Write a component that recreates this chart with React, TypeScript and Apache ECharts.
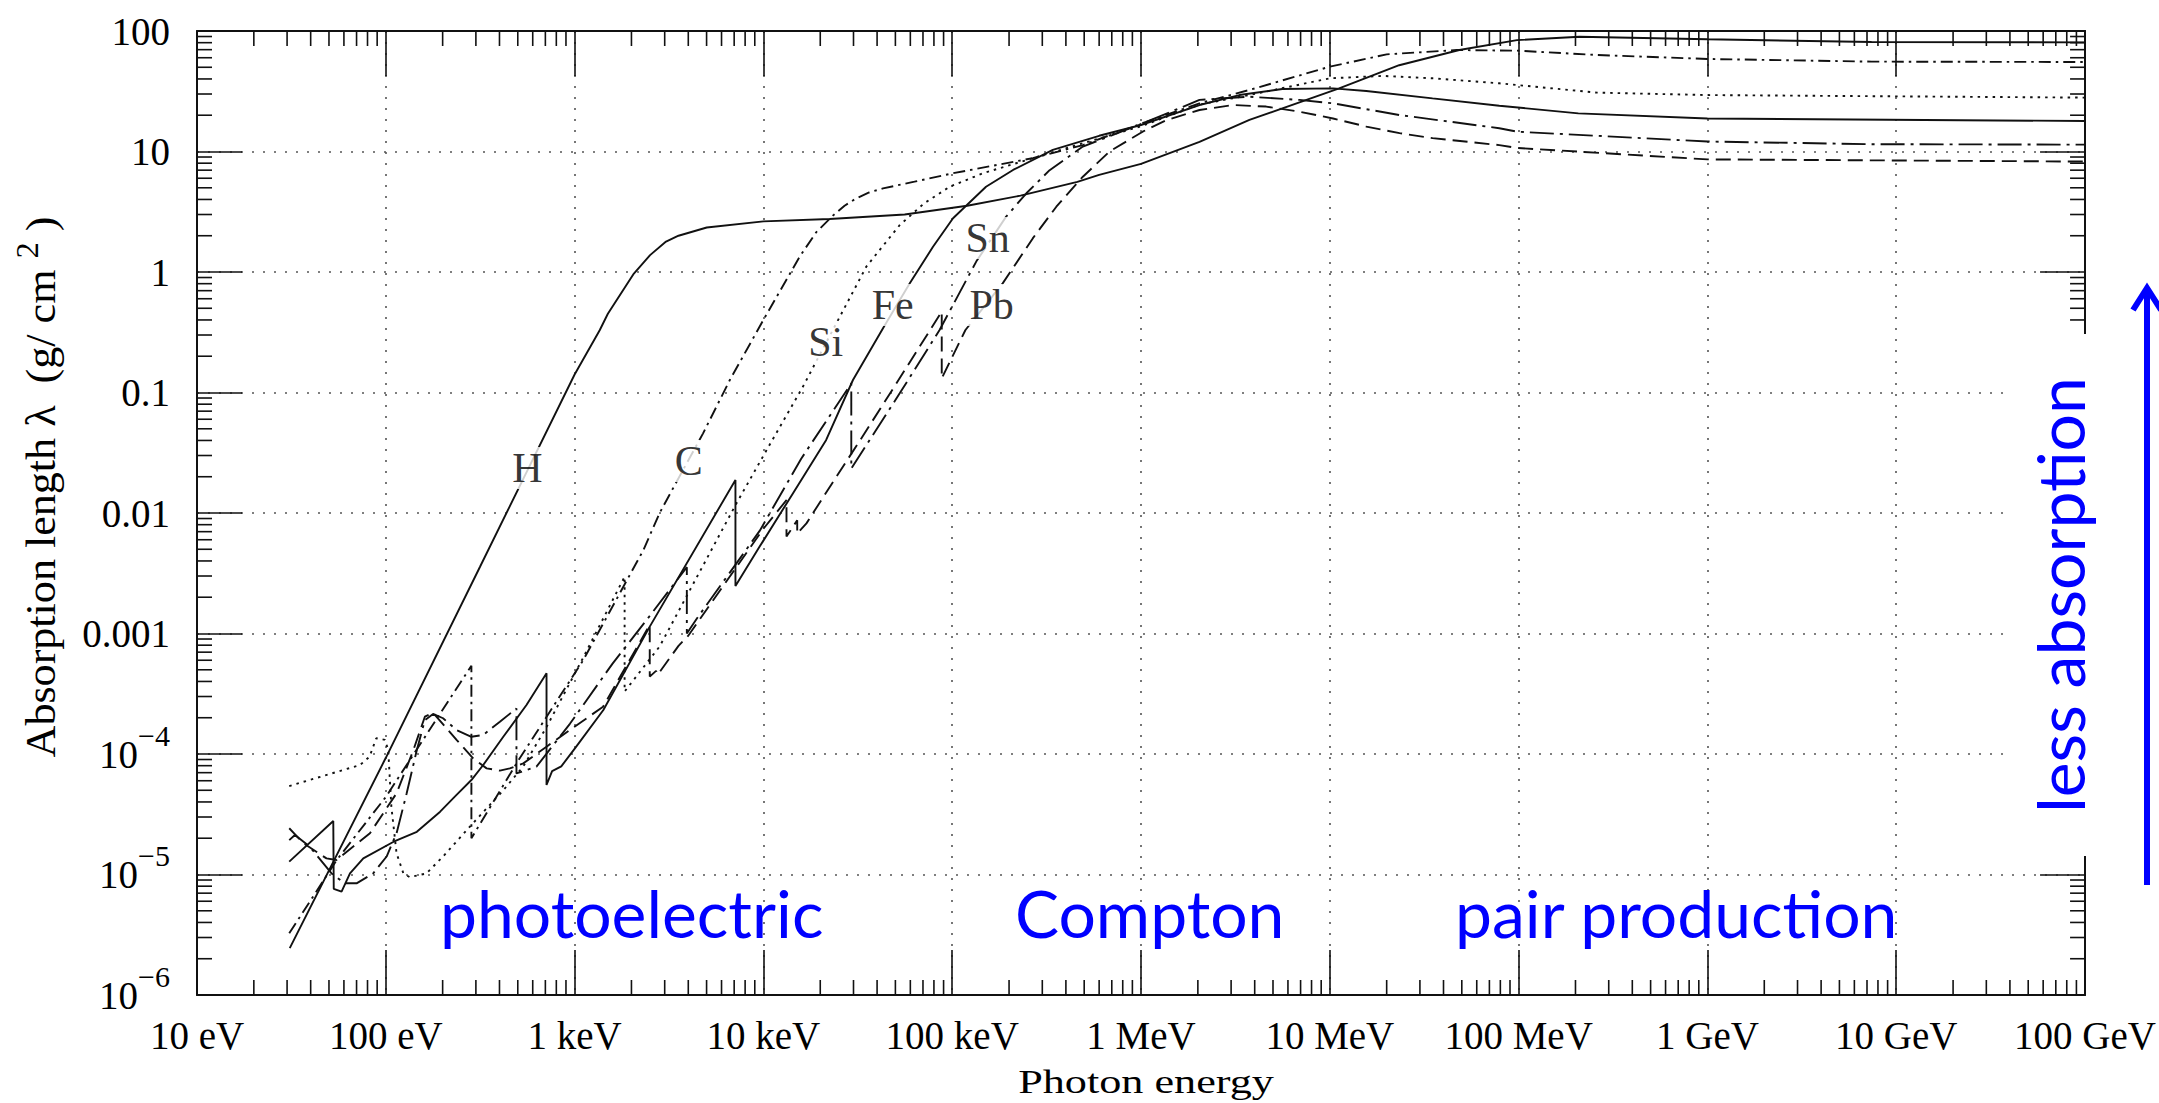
import React, { useEffect, useRef } from 'react';
import * as echarts from 'echarts';

// ---------- tick labels ----------
const xTickLabels = ['10 eV', '100 eV', '1 keV', '10 keV', '100 keV', '1 MeV', '10 MeV', '100 MeV', '1 GeV', '10 GeV', '100 GeV'];
const yTickLabels = ['{b|10}{s|−6}', '{b|10}{s|−5}', '{b|10}{s|−4}', '{b|0.001}', '{b|0.01}', '{b|0.1}', '{b|1}', '{b|10}', '{b|100}'];

// ---------- curves: [photon energy (eV), absorption length (g/cm^2)] ----------
const hydrogen = [
  [31, 2.45e-6], [100, 9.3e-5], [316, 3.6e-3], [1000, 0.141], [1360, 0.33], [1500, 0.45], [2060, 0.97],
  [2510, 1.38], [3050, 1.79], [3550, 2.0], [5010, 2.34], [10000, 2.63], [22400, 2.75], [56000, 3.0],
  [120000, 3.55], [230000, 4.3], [460000, 5.6], [600000, 6.4], [1e6, 7.9], [2.04e6, 12.0], [3.75e6, 18.3],
  [1.12e7, 33.4], [2.33e7, 52], [4.85e7, 69.5], [9.8e7, 84], [2.1e8, 89.7], [1e9, 85.3], [7.4e9, 81.1],
  [1e11, 80.5],
];
const carbon = [
  [30.8, 3.25e-6], [55, 1.32e-5], [100, 4.4e-5], [284, 5.4e-4], [284, 2.0e-5], [500, 8.7e-5], [1110, 6.0e-4],
  [2310, 4.9e-3], [2820, 0.01], [3610, 0.0204], [4790, 0.0458], [6640, 0.127], [10100, 0.412], [15560, 1.34],
  [19050, 2.14], [23400, 2.95], [26900, 3.55], [31000, 4.08], [36300, 4.57], [43000, 4.94], [63100, 5.62],
  [101000, 6.6], [267000, 8.8], [492000, 11.3], [1.01e6, 17.1], [2.04e6, 25.1], [3.75e6, 32.4], [1e7, 50.6],
  [2e7, 64], [4.7e7, 69.5], [9.8e7, 68.7], [2.6e8, 63.2], [1e9, 58.6], [7.4e9, 55.7], [1e11, 55.3],
];
const silicon = [
  [30.8, 5.42e-5], [73, 8.1e-5], [82, 9.5e-5], [89, 1.35e-4], [99, 1.31e-4], [103, 1.08e-4], [107, 3.66e-5],
  [114, 1.5e-5], [124, 1.02e-5], [134, 9.5e-6], [164, 1.02e-5], [201, 1.41e-5], [279, 2.5e-5], [419, 5.0e-5],
  [535, 7.9e-5], [708, 1.66e-4], [1110, 6.3e-4], [1840, 2.96e-3], [1840, 3.3e-4], [2820, 7.8e-4], [7190, 0.012],
  [10400, 0.0333], [16200, 0.112], [25400, 0.426], [35100, 1.11], [52700, 2.45], [70800, 3.7], [96900, 5.1],
  [145600, 6.6], [267000, 8.8], [492000, 11.7], [1e6, 16.2], [2.04e6, 24.5], [3.75e6, 29.4], [1e7, 40.5],
  [1.9e7, 42.4], [3.5e7, 40.5], [7.9e7, 36.8], [2.6e8, 30.8], [1e9, 29.4], [1e11, 28],
];
const iron = [
  [30.8, 1.28e-5], [52.7, 2.78e-5], [53, 7.6e-6], [58.3, 7.2e-6], [64.6, 1.02e-5], [76, 1.36e-5], [110, 1.87e-5],
  [146, 2.26e-5], [194, 3.32e-5], [232, 4.43e-5], [284, 6.08e-5], [328, 8.1e-5], [419, 1.39e-4], [556, 2.55e-4],
  [710, 4.68e-4], [710, 5.53e-5], [760, 7.2e-5], [850, 7.9e-5], [1020, 1.15e-4], [1420, 2.32e-4], [2500, 1.14e-3],
  [7110, 0.0188], [7110, 2.48e-3], [9550, 5.26e-3], [14350, 0.0146], [21500, 0.0404], [29800, 0.127],
  [43000, 0.341], [59600, 0.805], [79100, 1.62], [101000, 2.79], [151000, 5.1], [210000, 7.03], [341000, 10.3],
  [600000, 13.5], [1e6, 16.6], [2.04e6, 24.3], [3.32e6, 29.4], [5.6e6, 33], [1.04e7, 33.4], [1.56e7, 31.8],
  [3.5e7, 27.6], [7.9e7, 24], [2.07e8, 20.7], [1e9, 18.8], [1e11, 17.9],
];
const tin = [
  [30.8, 1.93e-5], [33, 2.13e-5], [39.6, 1.7e-5], [51.6, 1.02e-5], [60.7, 8.45e-6], [70, 8.45e-6], [85.7, 1.02e-5],
  [101, 1.41e-5], [114, 2.2e-5], [129, 4.72e-5], [146, 1.08e-4], [161, 1.91e-4], [178, 2.15e-4], [201, 1.98e-4],
  [237, 1.58e-4], [284, 1.39e-4], [328, 1.44e-4], [402, 1.85e-4], [492, 2.39e-4], [492, 6.9e-5], [628, 7.85e-5],
  [944, 1.78e-4], [1585, 5.6e-4], [2510, 1.41e-3], [3930, 3.55e-3], [3930, 1.0e-3], [4470, 1.35e-3],
  [9550, 7.1e-3], [15850, 0.0282], [29200, 0.119], [29200, 0.0234], [52700, 0.0984], [85700, 0.33],
  [134000, 1.22], [193000, 2.88], [247000, 4.5], [328000, 7.0], [492000, 11.0], [1.02e6, 17.1], [2.04e6, 26.8],
  [3.75e6, 28.5], [6.9e6, 26.8], [1.04e7, 25.1], [2.33e7, 20.1], [7.9e7, 15.6], [9.8e7, 14.6], [1e9, 12.1],
  [7.4e9, 11.5], [1e11, 11.4],
];
const lead = [
  [30.8, 2.42e-5], [36.6, 1.82e-5], [48.5, 1.36e-5], [54.8, 1.32e-5], [82.4, 2.2e-5], [114, 4.72e-5], [140, 1.08e-4],
  [161, 2.04e-4], [178, 2.2e-4], [237, 1.31e-4], [290, 9.2e-5], [342, 7.6e-5], [402, 7.28e-5], [454, 7.6e-5],
  [535, 8.36e-5], [710, 1.15e-4], [944, 1.58e-4], [1415, 2.47e-4], [2500, 1.18e-3], [2500, 4.39e-4], [2700, 4.9e-4],
  [2760, 4.57e-4], [3550, 7.9e-4], [3980, 9.5e-4], [10000, 7.4e-3], [13250, 0.0128], [13250, 6.37e-3],
  [15100, 8.7e-3], [15100, 6.76e-3], [16900, 8.2e-3], [21500, 0.0148], [32400, 0.0398], [48500, 0.107],
  [88000, 0.469], [88000, 0.131], [117500, 0.33], [185000, 0.805], [267000, 1.9], [356000, 3.48], [492000, 6.18],
  [681000, 10], [1.02e6, 14.6], [1.36e6, 18.2], [2.04e6, 22.1], [3.06e6, 24.3], [4.6e6, 23.6], [6.9e6, 21.4],
  [1.04e7, 18.8], [1.56e7, 16.1], [2.34e7, 14.2], [3.5e7, 12.9], [7.9e7, 11.3], [9.8e7, 10.7], [1e9, 8.6],
  [1e11, 8.25],
];

// curve name labels, placed in data coordinates
const curveLabelNames = ['H', 'C', 'Si', 'Fe', 'Sn', 'Pb'];
const curveLabelEnergies = [562, 4024, 21370, 48350, 154000, 161700];
const curveLabelLengths = [0.0236, 0.027, 0.262, 0.532, 1.915, 0.532];

const SERIF = '"Liberation Serif", "Times New Roman", serif';
const SANS = 'Lato, "Open Sans", sans-serif';
const INK = '#111';
const BLUE = '#0000ff';

const curves = [
  { name: 'H', data: hydrogen, dash: 'solid' as any },
  { name: 'C', data: carbon, dash: [12, 5, 2.5, 5] },
  { name: 'Si', data: silicon, dash: [2.5, 5] },
  { name: 'Fe', data: iron, dash: 'solid' as any },
  { name: 'Sn', data: tin, dash: [24, 6, 3, 6] },
  { name: 'Pb', data: lead, dash: [15, 7] },
];

function buildOption(): any {
  const baseX = {
    type: 'log', logBase: 10, min: 10, max: 1e11, interval: 1, splitNumber: 10,
    axisLine: { show: true, onZero: false, lineStyle: { color: INK, width: 2 } },
    axisTick: { show: true, inside: true, length: 45, lineStyle: { color: INK, width: 1.6 } },
    minorTick: { show: false },
  };
  const baseY = {
    type: 'log', logBase: 10, min: 1e-6, max: 100, interval: 1, splitNumber: 8,
    axisLine: { show: true, onZero: false, lineStyle: { color: INK, width: 2 } },
    axisTick: { show: true, inside: true, length: 45, lineStyle: { color: INK, width: 1.6 } },
    minorTick: { show: false },
  };
  const grid = { show: true, lineStyle: { color: '#555', width: 1.6, type: [2, 9] } };

  const minorTicks = {
    type: 'custom', silent: true, z: 4, xAxisIndex: 0, yAxisIndex: 0,
    data: [[10, 1]],
    renderItem: (_p: any, api: any) => {
      const kids: any[] = [];
      const st = { stroke: INK, lineWidth: 1.6 };
      for (let d = 1; d < 11; d++) {
        for (let m = 2; m < 10; m++) {
          const b = api.coord([m * Math.pow(10, d), 1e-6]);
          const t = api.coord([m * Math.pow(10, d), 100]);
          kids.push({ type: 'line', shape: { x1: b[0], y1: b[1], x2: b[0], y2: b[1] - 15 }, style: st });
          kids.push({ type: 'line', shape: { x1: t[0], y1: t[1], x2: t[0], y2: t[1] + 15 }, style: st });
        }
      }
      for (let d = -6; d < 2; d++) {
        for (let m = 2; m < 10; m++) {
          const l = api.coord([10, m * Math.pow(10, d)]);
          const r = api.coord([1e11, m * Math.pow(10, d)]);
          kids.push({ type: 'line', shape: { x1: l[0], y1: l[1], x2: l[0] + 15, y2: l[1] }, style: st });
          kids.push({ type: 'line', shape: { x1: r[0], y1: r[1], x2: r[0] - 15, y2: r[1] }, style: st });
        }
      }
      return { type: 'group', children: kids };
    },
  };

  const lineSeries = curves.map((c) => ({
    type: 'line', name: c.name, data: c.data, showSymbol: false, symbol: 'none', z: 3,
    lineStyle: { color: INK, width: 1.9, type: c.dash },
  }));

  const labelSeries = {
    type: 'scatter', z: 6, symbolSize: 1, itemStyle: { color: 'rgba(0,0,0,0)' }, silent: true,
    data: curveLabelNames.map((n, i) => ({ name: n, value: [curveLabelEnergies[i], curveLabelLengths[i]] })),
    label: {
      show: true, position: 'inside', formatter: (p: any) => p.name,
      fontFamily: SERIF, fontSize: 42, color: '#000', backgroundColor: '#fff', padding: [0, 3],
    },
  };

  const blueText = (text: string, x: number, y: number, extra: any = {}) => ({
    type: 'text', z: 101, x, y, ...extra,
    style: {
      text, fill: BLUE, fontFamily: SANS, fontSize: 66,
      align: extra.align || 'left', verticalAlign: 'middle',
      textAlign: extra.align || 'left', textVerticalAlign: 'middle',
    },
  });

  return {
    animation: false,
    backgroundColor: '#fff',
    grid: { left: 197, right: 73, top: 31, bottom: 108, containLabel: false },
    xAxis: [
      {
        ...baseX, position: 'bottom',
        axisLabel: {
          show: true, margin: 21, color: '#000', fontFamily: SERIF, fontSize: 39,
          formatter: (v: number) => xTickLabels[Math.round(Math.log10(v)) - 1] ?? '',
        },
        splitLine: grid,
      },
      { ...baseX, position: 'top', axisLabel: { show: false }, splitLine: { show: false } },
    ],
    yAxis: [
      {
        ...baseY, position: 'left',
        axisLabel: {
          show: true, margin: 27,
          formatter: (v: number) => yTickLabels[Math.round(Math.log10(v)) + 6] ?? '',
          rich: {
            b: { fontFamily: SERIF, fontSize: 39, color: '#000', lineHeight: 68 },
            s: { fontFamily: SERIF, fontSize: 30, color: '#000', lineHeight: 32, verticalAlign: 'top' },
          },
        },
        splitLine: grid,
      },
      { ...baseY, position: 'right', axisLabel: { show: false }, splitLine: { show: false } },
    ],
    series: [...lineSeries, minorTicks, labelSeries],
    graphic: {
      elements: [
        { type: 'rect', z: 100, shape: { x: 2005, y: 334, width: 105, height: 522 }, style: { fill: '#fff' } },
        blueText('less absorption', 2059, 595, { rotation: Math.PI / 2, align: 'center' }),
        { type: 'line', z: 101, shape: { x1: 2147, y1: 885, x2: 2147, y2: 291 }, style: { stroke: BLUE, lineWidth: 6 } },
        {
          type: 'polyline', z: 101, shape: { points: [[2133, 310], [2147, 288], [2161, 310]] },
          style: { stroke: BLUE, lineWidth: 6, fill: null },
        },
        blueText('photoelectric', 440, 912),
        blueText('Compton', 1015, 912),
        blueText('pair production', 1455, 912),
        {
          type: 'text', z: 101, x: 41, y: 487, rotation: Math.PI / 2, scaleX: 1.05,
          style: {
            text: '{a|Absorption length λ  (g/ cm }{s|2}{a| )}',
            align: 'center', verticalAlign: 'middle', textAlign: 'center', textVerticalAlign: 'middle',
            rich: {
              a: { fontFamily: SERIF, fontSize: 42, fill: '#000', color: '#000', lineHeight: 58 },
              s: { fontFamily: SERIF, fontSize: 31, fill: '#000', color: '#000', lineHeight: 33, verticalAlign: 'top' },
            },
          },
        },
        {
          type: 'text', z: 101, x: 1146, y: 1082, scaleX: 1.3,
          style: {
            text: 'Photon energy', fill: '#000', fontFamily: SERIF, fontSize: 34,
            align: 'center', verticalAlign: 'middle', textAlign: 'center', textVerticalAlign: 'middle',
          },
        },
      ],
    },
  };
}

export default function App() {
  const ref = useRef<HTMLDivElement>(null);
  useEffect(() => {
    if (!ref.current) return;
    const chart = echarts.init(ref.current, undefined, { renderer: 'svg' });
    chart.setOption(buildOption());
    return () => chart.dispose();
  }, []);
  return (
    <div
      ref={ref}
      style={{ position: 'fixed', left: 0, top: 0, width: 2159, height: 1103, background: '#fff' }}
    />
  );
}
